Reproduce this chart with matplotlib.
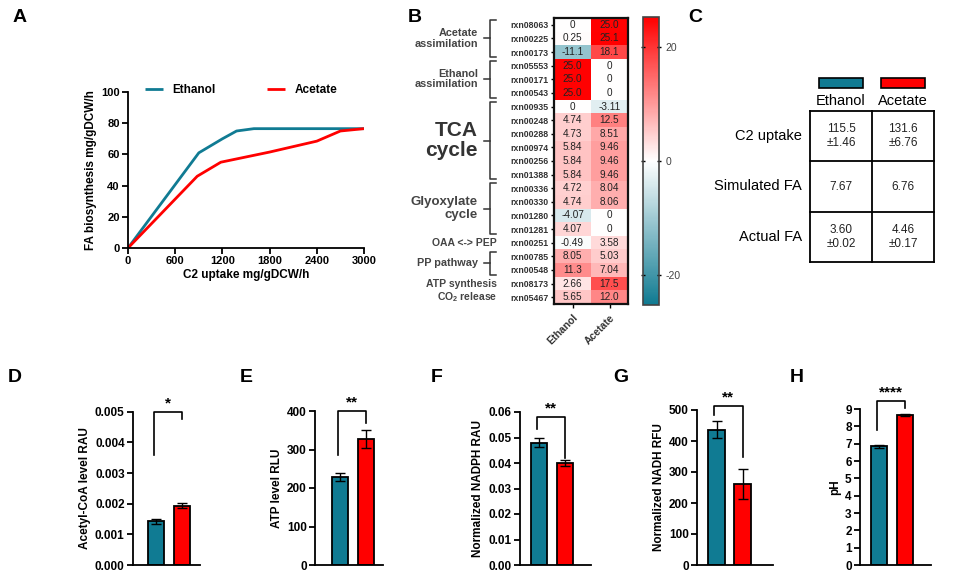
import numpy as np
import matplotlib
matplotlib.use("Agg")
import matplotlib.pyplot as plt
from matplotlib.colors import LinearSegmentedColormap
from matplotlib.patches import Rectangle

plt.rcParams['font.family'] = ['Liberation Sans', 'DejaVu Sans']
plt.rcParams['mathtext.fontset'] = 'custom'
plt.rcParams['mathtext.rm'] = 'Liberation Sans'
plt.rcParams['mathtext.bf'] = 'Liberation Sans:bold'
plt.rcParams['axes.unicode_minus'] = False

TEAL = '#107b93'
RED = '#ff0000'

# ---------------- data ----------------
# Panel A
eth_x = [0, 900, 1200, 1380, 1600, 3000]
eth_y = [0, 61, 70, 75, 76.5, 76.5]
ace_x = [0, 880, 1180, 1800, 2400, 2700, 3000]
ace_y = [0, 46, 55, 61.5, 68.5, 75, 76.5]

# Panel B
reactions = ['rxn08063', 'rxn00225', 'rxn00173', 'rxn05553', 'rxn00171', 'rxn00543',
             'rxn00935', 'rxn00248', 'rxn00288', 'rxn00974', 'rxn00256', 'rxn01388',
             'rxn00336', 'rxn00330', 'rxn01280', 'rxn01281', 'rxn00251', 'rxn00785',
             'rxn00548', 'rxn08173', 'rxn05467']
flux_ethanol = [0, 0.25, -11.1, 25.0, 25.0, 25.0, 0, 4.74, 4.73, 5.84, 5.84, 5.84,
                4.72, 4.74, -4.07, 4.07, -0.49, 8.05, 11.3, 2.66, 5.65]
flux_acetate = [25.0, 25.1, 18.1, 0, 0, 0, -3.11, 12.5, 8.51, 9.46, 9.46, 9.46,
                8.04, 8.06, 0, 0, 3.58, 5.03, 7.04, 17.5, 12.0]
flux_text_eth = ['0', '0.25', '-11.1', '25.0', '25.0', '25.0', '0', '4.74', '4.73', '5.84',
                 '5.84', '5.84', '4.72', '4.74', '-4.07', '4.07', '-0.49', '8.05', '11.3',
                 '2.66', '5.65']
flux_text_ace = ['25.0', '25.1', '18.1', '0', '0', '0', '-3.11', '12.5', '8.51', '9.46',
                 '9.46', '9.46', '8.04', '8.06', '0', '0', '3.58', '5.03', '7.04', '17.5',
                 '12.0']
heat_cols = ['Ethanol', 'Acetate']
cbar_ticks = [-20, 0, 20]
# groups: (label, first row, last row, bracket, size)
groups = [('Acetate\nassimilation', 0, 2, True, 7.8),
          ('Ethanol\nassimilation', 3, 5, True, 7.8),
          ('TCA\ncycle', 6, 11, True, 15),
          ('Glyoxylate\ncycle', 12, 15, True, 9.5),
          ('OAA <-> PEP', 16, 16, False, 7.5),
          ('PP pathway', 17, 18, True, 7.8),
          ('ATP synthesis', 19, 19, False, 7.5),
          (r'CO$_\mathbf{2}$ release', 20, 20, False, 7.5)]

# Panel C
table_rows = ['C2 uptake', 'Simulated FA', 'Actual FA']
table_cols = ['Ethanol', 'Acetate']
table_vals = [['115.5\n±1.46', '131.6\n±6.76'],
              ['7.67', '6.76'],
              ['3.60\n±0.02', '4.46\n±0.17']]

# Panels D-H
bar_labels = ['Acetyl-CoA level RAU', 'ATP level RLU', 'Normalized NADPH RAU',
              'Normalized NADH RFU', 'pH']
bar_means = [[0.00143, 0.00194], [228, 327], [0.048, 0.040], [437, 262], [6.85, 8.65]]
bar_errs = [[0.00008, 0.00007], [10, 23], [0.0018, 0.0013], [28, 48], [0.1, 0.08]]
bar_ymax = [0.005, 400, 0.06, 500, 9]
bar_yticks = [[0, 0.001, 0.002, 0.003, 0.004, 0.005], [0, 100, 200, 300, 400],
              [0, 0.01, 0.02, 0.03, 0.04, 0.05, 0.06], [0, 100, 200, 300, 400, 500],
              list(range(10))]
bar_ytick_fmt = ['{:.3f}', '{:.0f}', '{:.2f}', '{:.0f}', '{:.0f}']
sig_stars = ['*', '**', '**', '**', '****']
sig_top = [0.005, 400, 0.058, 513, 9.45]
sig_left = [0.0036, 285, 0.0533, 484, 7.8]
sig_right = [0.00475, 370, 0.042, 350, 9.05]

# ---------------- figure ----------------
W, H = 960, 585
fig = plt.figure(figsize=(9.6, 5.85), dpi=100)


def ax_px(l, t, r, b):
    return fig.add_axes([l / W, 1 - b / H, (r - l) / W, (b - t) / H])


def fig_text(x, y, s, **kw):
    fig.text(x / W, 1 - y / H, s, **kw)


# panel letters
for lab, x, y in [('A', 13, 18), ('B', 408, 18), ('C', 688, 18), ('D', 8, 377),
                  ('E', 240, 377), ('F', 431, 377), ('G', 613, 377), ('H', 790, 377)]:
    fig_text(x, y, lab, fontsize=14, fontweight='bold', va='center', ha='left')

# ---- Panel A ----
axA = ax_px(128, 92, 364, 248)
axA.plot(eth_x, eth_y, color=TEAL, lw=2, label='Ethanol', solid_capstyle='butt')
axA.plot(ace_x, ace_y, color=RED, lw=2, label='Acetate', solid_capstyle='butt')
axA.set_xlim(0, 3000)
axA.set_ylim(0, 100)
axA.set_xticks([0, 600, 1200, 1800, 2400, 3000])
axA.set_yticks([0, 20, 40, 60, 80, 100])
for s in ['top', 'right']:
    axA.spines[s].set_visible(False)
for s in ['left', 'bottom']:
    axA.spines[s].set_linewidth(1.3)
axA.tick_params(width=1.3, length=4, labelsize=8, pad=2)
for t in axA.get_xticklabels() + axA.get_yticklabels():
    t.set_fontweight('bold')
axA.set_xlabel('C2 uptake mg/gDCW/h', fontsize=8.5, fontweight='bold', labelpad=2)
axA.set_ylabel('FA biosynthesis mg/gDCW/h', fontsize=8.5, fontweight='bold', labelpad=3)
axA.legend(ncol=2, loc='center left', bbox_to_anchor=(0.072, 1.01), frameon=False,
           handlelength=1.5, handletextpad=0.8, columnspacing=4.4,
           borderpad=0, borderaxespad=0, prop={'weight': 'bold', 'size': 8.5})

# ---- Panel B ----
cmap = LinearSegmentedColormap.from_list('tw', ['#0f7a91', '#ffffff', '#ff0000'])
vmax = 25.2
nrow = len(reactions)
axB = ax_px(554, 18, 628, 304)
data = np.array([flux_ethanol, flux_acetate]).T
im = axB.imshow(data, cmap=cmap, vmin=-vmax, vmax=vmax, aspect='auto',
                interpolation='nearest')
for i in range(nrow):
    axB.text(0, i, flux_text_eth[i], ha='center', va='center', fontsize=7.2, color='#222222')
    axB.text(1, i, flux_text_ace[i], ha='center', va='center', fontsize=7.2, color='#222222')
axB.set_yticks(range(nrow))
axB.set_yticklabels(reactions, fontsize=6.3, fontweight='bold', color='#333333')
axB.set_xticks([0, 1])
axB.set_xticklabels(heat_cols, rotation=45, ha='right', rotation_mode='anchor',
                    fontsize=7.5, fontweight='bold', color='#333333')
axB.tick_params(axis='y', length=2.5, width=1, pad=1.5)
axB.tick_params(axis='x', length=3, width=1, pad=3)
for s in axB.spines.values():
    s.set_linewidth(1.6)
    s.set_color('#111111')

pxu = 37.0  # pixels per column unit
xb = -0.5 - (554 - 490) / pxu
for lab, r0, r1, br, fs in groups:
    yc = (r0 + r1) / 2
    if br:
        y0, y1 = r0 - 0.35, r1 + 0.35
        hook = 6 / pxu
        axB.plot([xb + hook, xb, xb, xb + hook], [y0, y0, y1, y1], color='#333333',
                 lw=1.1, clip_on=False)
        axB.plot([xb - hook, xb], [yc, yc], color='#333333', lw=1.1, clip_on=False)
        xt = xb - 12 / pxu
    else:
        xt = -0.5 - (554 - 497) / pxu
    axB.text(xt, yc, lab, ha='right', va='center', fontsize=fs, fontweight='bold',
             color='#444444' if fs < 12 else '#333333', linespacing=1.05,
             clip_on=False)
axB.set_xlim(-0.5, 1.5)
axB.set_ylim(nrow - 0.5, -0.5)

cax = ax_px(643, 17, 659, 305)
cb = fig.colorbar(im, cax=cax, ticks=cbar_ticks)
cb.ax.set_yticklabels([str(t) for t in cbar_ticks])
cb.outline.set_linewidth(1.2)
cb.outline.set_edgecolor('#444444')
cax.tick_params(labelsize=7.5, labelcolor='#444444', length=3, width=1, direction='inout',
                left=True, right=True, pad=3)

# ---- Panel C ----
axC = ax_px(810, 111, 934, 262)
axC.set_xlim(0, 2)
axC.set_ylim(3, 0)
axC.axis('off')
for k in range(4):
    axC.plot([0, 2], [k, k], color='black', lw=1.3, clip_on=False)
for k in range(3):
    axC.plot([k, k], [0, 3], color='black', lw=1.3, clip_on=False)
for i, rl in enumerate(table_rows):
    axC.text(-0.13, i + 0.5, rl, ha='right', va='center', fontsize=10.5, clip_on=False)
    for j in range(2):
        axC.text(j + 0.5, i + 0.5, table_vals[i][j], ha='center', va='center',
                 fontsize=8.5, color='#222222', linespacing=1.15)
for j, cl in enumerate(table_cols):
    axC.text(j + 0.5, -0.2, cl, ha='center', va='center', fontsize=10.5, clip_on=False)
    axC.add_patch(Rectangle((j + 0.5 - 0.36, -0.66), 0.72, 0.2,
                            facecolor=[TEAL, RED][j], edgecolor='black', lw=1.2,
                            clip_on=False))

# ---- Panels D-H ----
bar_axes = [(133, 200), (315, 383), (520, 591), (697, 773), (860, 931)]
bar_tops = [411.7, 411, 412, 410, 409]
bar_first_center = [156, 340, 539, 716.5, 879]
sp = 26.0
for k in range(5):
    l, r = bar_axes[k]
    ax = ax_px(l, bar_tops[k], r, 565)
    c0 = bar_first_center[k]
    ax.set_xlim((l - c0) / sp, (r - c0) / sp)
    ax.set_ylim(0, bar_ymax[k])
    ax.bar([0, 1], bar_means[k], width=0.62, color=[TEAL, RED], edgecolor='black',
           lw=1.3, zorder=2)
    ax.errorbar([0, 1], bar_means[k], yerr=bar_errs[k], fmt='none', ecolor='black',
                elinewidth=1, capsize=3.5, capthick=1, zorder=3)
    ax.set_yticks(bar_yticks[k])
    ax.set_yticklabels([bar_ytick_fmt[k].format(v) for v in bar_yticks[k]],
                       fontsize=8.5, fontweight='bold')
    ax.set_xticks([])
    for s in ['top', 'right']:
        ax.spines[s].set_visible(False)
    for s in ['left', 'bottom']:
        ax.spines[s].set_linewidth(1.3)
    ax.tick_params(axis='y', width=1.3, length=4, pad=2)
    ax.set_ylabel(bar_labels[k], fontsize=8.5, fontweight='bold', labelpad=3)
    xl, xr = -0.08, 1.0
    ax.plot([xl, xl, xr, xr], [sig_left[k], sig_top[k], sig_top[k], sig_right[k]],
            color='black', lw=1.2, clip_on=False)
    ax.annotate(sig_stars[k], xy=((xl + xr) / 2, sig_top[k]), xytext=(0, 1),
                textcoords='offset points', ha='center', va='bottom', fontsize=11,
                fontweight='bold', annotation_clip=False)

fig.savefig('out.png', dpi=100)
